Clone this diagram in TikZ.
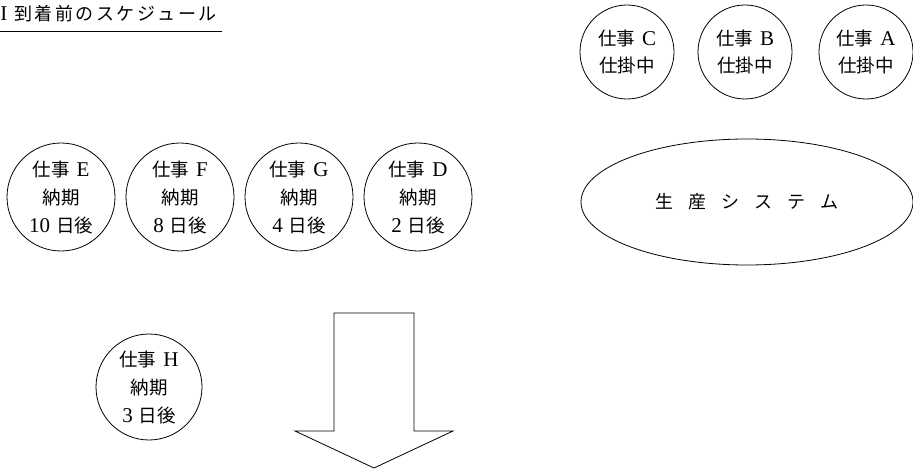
\documentclass[tikz,border=0pt]{standalone}
\usepackage{fontspec}
\setmainfont{Liberation Serif}
\newfontfamily\cjk{Noto Sans CJK JP}
\usetikzlibrary{shapes.geometric}
\newcommand{\jp}[1]{{\cjk #1}}
\newcommand{\lat}[1]{{\fontsize{21}{\baselineskip}\selectfont #1}}
\begin{document}
\begin{tikzpicture}[x=1pt,y=-1pt,
  line width=0.8pt,
  job/.style={draw, circle, inner sep=0pt, align=center, font=\fontsize{18.5}{27}\selectfont},
  wip/.style={job, minimum size=94pt},
  due/.style={job, minimum size=108pt, font=\fontsize{18.5}{28}\selectfont},
  system/.style={draw, ellipse, inner sep=0pt, minimum width=332pt, minimum height=126pt, font=\fontsize{18}{20}\selectfont},
  arrowbox/.style={draw, line join=miter}
]
\useasboundingbox (0,0) rectangle (913,470);

% title
\node[anchor=base west, inner sep=0pt, font=\fontsize{18}{20}\selectfont] (title) at (0,21)
  {\lat{I}\hspace{7pt}\jp{到\kern2.5pt 着\kern2.5pt 前\kern2.5pt の\kern2.5pt ス\kern2.5pt ケ\kern2.5pt ジ\kern2.5pt ュ\kern2.5pt ー\kern2.5pt ル}};
\coordinate (ul1) at (0,31);
\coordinate (ul2) at (222,31);
\draw (ul1) -- (ul2);

% jobs in progress
\node[wip] (C) at (627,52) {\jp{仕事}\hspace{7pt}\lat{C}\\\jp{仕掛中}};
\node[wip] (B) at (745,52) {\jp{仕事}\hspace{7pt}\lat{B}\\\jp{仕掛中}};
\node[wip] (A) at (866,52) {\jp{仕事}\hspace{7pt}\lat{A}\\\jp{仕掛中}};

% production system
\node[system] (sys) at (747,202)
  {\jp{生\kern15pt 産\kern15pt シ\kern15pt ス\kern15pt テ\kern15pt ム}};

% waiting jobs
\node[due] (E) at (61,197) {\jp{仕事}\hspace{7pt}\lat{E}\\\jp{納期}\\\lat{10}\hspace{6pt}\jp{日後}};
\node[due] (F) at (180,197) {\jp{仕事}\hspace{7pt}\lat{F}\\\jp{納期}\\\lat{8}\hspace{6pt}\jp{日後}};
\node[due] (G) at (299,197) {\jp{仕事}\hspace{7pt}\lat{G}\\\jp{納期}\\\lat{4}\hspace{6pt}\jp{日後}};
\node[due] (D) at (418,197) {\jp{仕事}\hspace{7pt}\lat{D}\\\jp{納期}\\\lat{2}\hspace{6pt}\jp{日後}};

% arriving job
\node[due, minimum size=106pt] (H) at (149,387) {\jp{仕事}\hspace{7pt}\lat{H}\\\jp{納期}\\\lat{3}\hspace{6pt}\jp{日後}};

% big arrow
\draw[arrowbox] (334,313) -- (414,313) -- (414,431) -- (453,431) -- (374,468)
  -- (295,431) -- (334,431) -- cycle;
\end{tikzpicture}
\end{document}
